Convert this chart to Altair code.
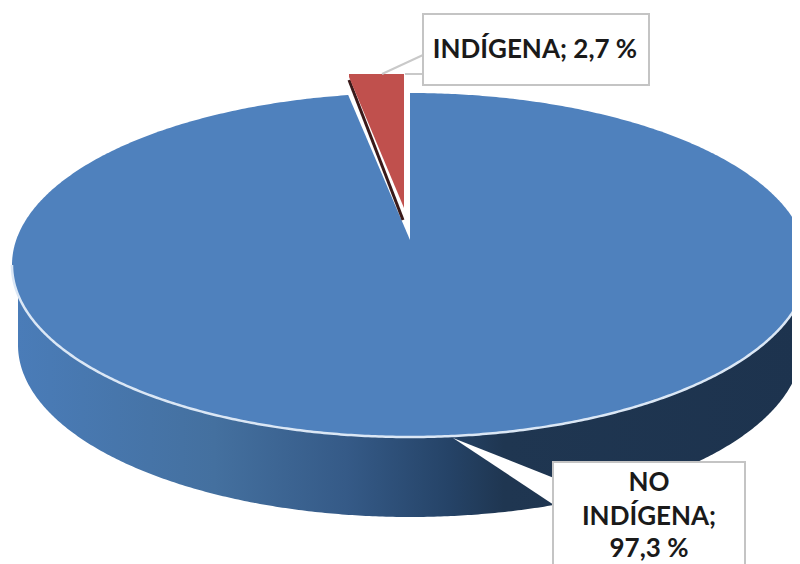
import numpy as np
import pandas as pd
import altair as alt

# Chart values
categories = ["NO INDÍGENA", "INDÍGENA"]
shares = [97.3, 2.7]
label_lines = [["INDÍGENA; 2,7 %"], ["NO", "INDÍGENA;", "97,3 %"]]

# Layout of the tilted disc, in page pixels
CX, CY, RX, RY = 410.0, 265.0, 398.0, 172.0
WALL_CY, WALL_RX = 345.0, 392.0
W, H = 784, 556

xs = alt.Scale(domain=[8, 8 + W], range=[0, W])
ys = alt.Scale(domain=[8 + H, 8], range=[H, 0])
X = alt.X("x:Q", scale=xs, axis=None)
Y = alt.Y("y:Q", scale=ys, axis=None, stack=None)
X2 = alt.X2("x2:Q")
Y2 = alt.Y2("y2:Q")

t = np.linspace(0, np.pi, 361)
top = pd.DataFrame({"x": CX + RX * np.cos(t), "s": np.sin(t)})
top["y"] = CY - RY * top["s"]
top["y2"] = CY + RY * top["s"]

wx = WALL_RX * np.cos(t) + CX
wall = pd.DataFrame({
    "x": wx,
    "y": CY + RY * np.sqrt(np.clip(1 - ((wx - CX) / RX) ** 2, 0, 1)),
    "y2": WALL_CY + RY * np.sin(t),
})

wall_fill = alt.Gradient(
    gradient="linear", x1=0, y1=0, x2=1, y2=0,
    stops=[
        alt.GradientStop(color="#4a7cb8", offset=0),
        alt.GradientStop(color="#44709f", offset=0.25),
        alt.GradientStop(color="#355a87", offset=0.42),
        alt.GradientStop(color="#254367", offset=0.55),
        alt.GradientStop(color="#1f3651", offset=0.62),
        alt.GradientStop(color="#1d334e", offset=1),
    ],
)

theta = 2 * np.pi * shares[1] / 100
notch_left = CX - 0.92 * RX * np.sin(theta)


def area(df, **kw):
    return alt.Chart(pd.DataFrame(df)).mark_area(clip=True, **kw).encode(x=X, y=Y, y2=Y2)


def line(df, **kw):
    return alt.Chart(pd.DataFrame(df)).mark_line(clip=True, **kw).encode(x=X, y=Y)


def box(x, x2, y, y2):
    return alt.Chart(pd.DataFrame({"x": [x], "x2": [x2], "y": [y], "y2": [y2]})).mark_rect(
        fill="white", stroke="#c4c4c4", strokeWidth=2, clip=True
    ).encode(x=X, x2=X2, y=Y, y2=Y2)


def text(lines, x, ys_):
    d = pd.DataFrame({"x": [x] * len(lines), "y": ys_, "t": lines})
    return alt.Chart(d).mark_text(
        font="Lato", fontSize=26, fontWeight="bold", color="#1a1a1a", align="center", baseline="middle"
    ).encode(x=X, y=Y, text="t:N")


layers = [
    area(wall, fill=wall_fill),
    area(top, color="#4f81bd"),
    line(top.assign(y=top["y2"]), color="#dbe7f5", strokeWidth=2.5),
    # gap left by the pulled-out slice
    area({"x": [notch_left, CX], "y": [85, 85], "y2": [95, 240]}, color="white"),
    # pulled-out slice
    line({"x": [349, 403], "y": [80, 220]}, color="#3a1a1a", strokeWidth=3),
    area({"x": [349, 404], "y": [74, 74], "y2": [77, 208]}, color="#c0504d"),
    # leaders
    line({"x": [382, 423], "y": [74, 55]}, color="#c9c9c9", strokeWidth=2),
    line({"x": [405, 423], "y": [74, 74]}, color="#c9c9c9", strokeWidth=2),
    area({"x": [453, 554], "y": [438, 478], "y2": [438, 505]}, color="white"),
    box(423, 649, 14, 85),
    box(553, 745, 462, 570),
    text(label_lines[0], 535, [50]),
    text(label_lines[1], 649, [483, 517, 549]),
]

chart = alt.layer(*layers).properties(
    width=W, height=H, padding=0, autosize=alt.AutoSizeParams(type="none")
).configure_view(stroke=None)

chart.save("out.html", embed_options={"renderer": "svg", "actions": False})
